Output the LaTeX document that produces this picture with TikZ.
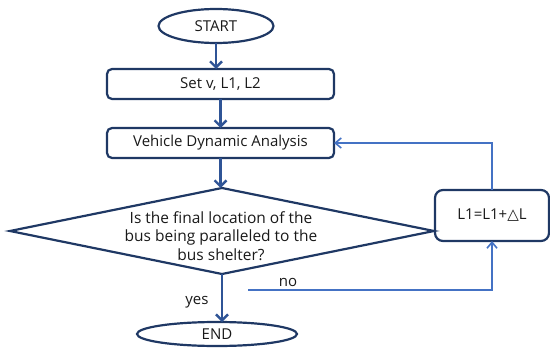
\documentclass[tikz,border=0pt]{standalone}
\usepackage{fontspec}
\setmainfont{Open Sans}
\newfontfamily\symfont{DejaVu Sans}
\usetikzlibrary{shapes.geometric,arrows.meta}
\definecolor{navy}{RGB}{31,56,100}
\definecolor{arrblue}{RGB}{47,84,150}
\definecolor{fbblue}{RGB}{68,114,196}
\tikzset{
  txt/.style={font=\fontsize{15}{18.5}\selectfont, text=black!90},
  term/.style={ellipse, draw=navy, line width=2.2pt, inner sep=0pt, outer sep=0pt, txt},
  procbox/.style={rectangle, rounded corners=5pt, draw=navy, line width=2.2pt, inner sep=0pt, outer sep=0pt, txt},
  decbox/.style={diamond, draw=navy, line width=2.2pt, inner sep=0pt, outer sep=0pt},
  arr/.style={draw=arrblue, line width=2.7pt, -{Straight Barb[length=6pt,width=12pt,line width=2.4pt]}},
  fb/.style={draw=fbblue, line width=1.6pt, -{Straight Barb[length=6pt,width=10pt,line width=1.6pt]}},
  lbl/.style={txt, inner sep=0pt}
}
\begin{document}
\begin{tikzpicture}[x=1pt,y=-1pt]
\useasboundingbox (0,0) rectangle (550,348);
\node[term, minimum width=115pt, minimum height=34pt] (start) at (216,26) {START};
\node[procbox, minimum width=227pt, minimum height=30pt] (set) at (220.5,84) {Set v, L1, L2};
\node[procbox, minimum width=227pt, minimum height=30pt] (veh) at (220.5,143) {Vehicle Dynamic Analysis};
\node[decbox, minimum width=424pt, minimum height=86pt] (dec) at (222,231) {};
\node[lbl, align=center, font=\fontsize{15.5}{18.5}\selectfont] (dectext) at (221,236) {Is the final location of the\\bus being paralleled to the\\bus shelter?};
\node[procbox, rounded corners=8pt, minimum width=114pt, minimum height=51pt] (upd) at (492,215.5) {L1=L1+{\symfont △}L};
\node[term, minimum width=160pt, minimum height=24pt] (endn) at (217,334) {END};
\node[lbl] (yes) at (197,302) {yes};
\node[lbl] (no) at (288,282) {no};
\coordinate (nostart) at (248,290);
\draw[arr] (start.south) -- (start.south |- set.north);
\draw[arr] (set.south) -- (veh.north);
\draw[arr] (veh.south) -- (veh.south |- dec.north);
\draw[arr] (dec.south) -- (dec.south |- endn.north);
\draw[fb] (upd.north) |- (veh.east);
\draw[fb] (nostart) -| (upd.south);
\end{tikzpicture}
\end{document}
